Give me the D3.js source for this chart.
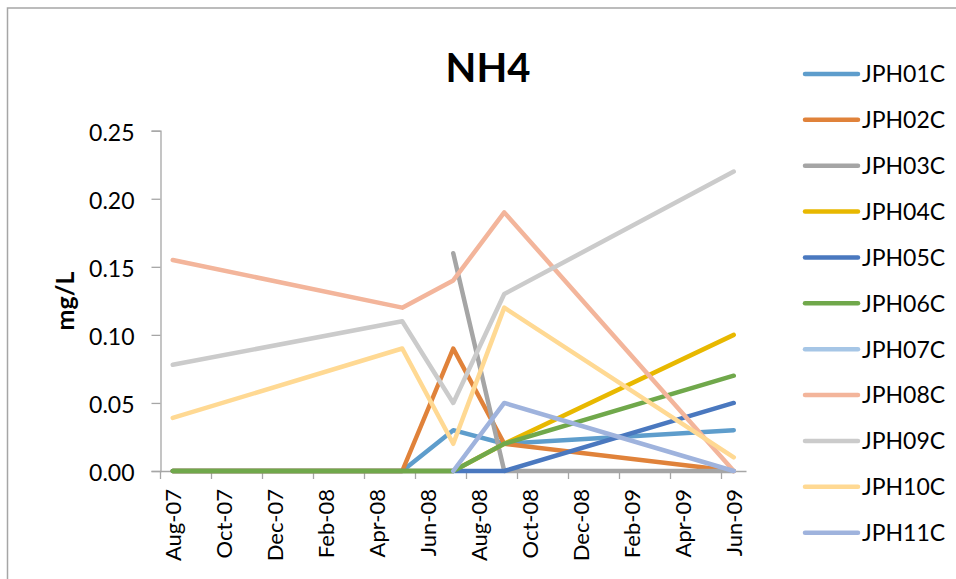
<!DOCTYPE html>
<html>
<head>
<meta charset="utf-8">
<script src="https://cdn.jsdelivr.net/npm/d3@7"></script>
<style>
  html, body { margin: 0; padding: 0; background: #fff; }
  svg { display: block; }
  text { font-family: Lato, "Open Sans", "Liberation Sans", sans-serif; fill: #000; }
</style>
</head>
<body>
<svg id="chart" width="956" height="579"></svg>
<script>
// Monthly categories of the date axis (one band per month)
const monthCats = ["Aug-07","Sep-07","Oct-07","Nov-07","Dec-07","Jan-08","Feb-08","Mar-08",
  "Apr-08","May-08","Jun-08","Jul-08","Aug-08","Sep-08","Oct-08","Nov-08","Dec-08",
  "Jan-09","Feb-09","Mar-09","Apr-09","May-09","Jun-09"];
// Labelled months on the x axis
const tickLabels = ["Aug-07","Oct-07","Dec-07","Feb-08","Apr-08","Jun-08",
  "Aug-08","Oct-08","Dec-08","Feb-09","Apr-09","Jun-09"];
// Sampling dates
const sampleDates = ["Aug-07","May-08","Jul-08","Sep-08","Jun-09"];
// Y axis ticks
const yTicks = [0, 0.05, 0.10, 0.15, 0.20, 0.25];

// NH4 concentration (mg/L) per station, one value per sampling date
const seriesNames = ["JPH01C","JPH02C","JPH03C","JPH04C","JPH05C","JPH06C",
  "JPH07C","JPH08C","JPH09C","JPH10C","JPH11C"];
const JPH01C = [0, 0, 0.03, 0.02, 0.03];
const JPH02C = [0, 0, 0.09, 0.02, 0];
const JPH03C = [null, null, 0.16, 0, 0];
const JPH04C = [0, 0, 0, 0.02, 0.10];
const JPH05C = [0, 0, 0, 0, 0.05];
const JPH06C = [0, 0, 0, 0.02, 0.07];
const JPH07C = [null, null, null, null, null];
const JPH08C = [0.155, 0.12, 0.14, 0.19, 0];
const JPH09C = [0.078, 0.11, 0.05, 0.13, 0.22];
const JPH10C = [0.039, 0.09, 0.02, 0.12, 0.01];
const JPH11C = [null, null, 0, 0.05, 0];
const seriesValues = [JPH01C, JPH02C, JPH03C, JPH04C, JPH05C, JPH06C,
  JPH07C, JPH08C, JPH09C, JPH10C, JPH11C];
const seriesColors = ["#5E9DCC","#E0823A","#A5A5A5","#E8B800","#4A78BF","#70A84B",
  "#A6C6E6","#F3B59B","#CBCBCB","#FFD993","#9FB3DD"];

const svg = d3.select("#chart");

// Outer chart frame
svg.append("rect")
  .attr("x", 7.5).attr("y", 8)
  .attr("width", 1000).attr("height", 1000)
  .attr("fill", "none").attr("stroke", "#A6A6A6").attr("stroke-width", 1.5);

const plot = { left: 160, right: 746.5, top: 130.7, bottom: 471 };

const x = d3.scaleBand().domain(monthCats).range([plot.left, plot.right]).paddingInner(0).paddingOuter(0);
const bw = x.bandwidth();
const xc = m => x(m) + bw / 2;
const y = d3.scaleLinear().domain([0, 0.25]).range([plot.bottom, plot.top]);

const axisColor = "#A6A6A6";

// Y axis
const yAxis = svg.append("g")
  .attr("transform", `translate(${plot.left + 0.5},0)`)
  .call(d3.axisLeft(y).tickValues(yTicks).tickFormat(d3.format(".2f")).tickSize(9).tickPadding(17));
yAxis.select(".domain").attr("stroke", axisColor).attr("stroke-width", 1.3);
yAxis.selectAll(".tick line").attr("stroke", axisColor).attr("stroke-width", 1.3);
yAxis.selectAll(".tick text")
  .attr("font-size", 23).attr("dy", "0.42em")
  .style("font-family", "Lato, 'Open Sans', sans-serif").attr("fill", "#000");

// X axis: ticks at every second month boundary, labels centred on the month
const xAxisG = svg.append("g");
xAxisG.append("line")
  .attr("x1", plot.left).attr("x2", plot.right)
  .attr("y1", plot.bottom + 0.5).attr("y2", plot.bottom + 0.5)
  .attr("stroke", axisColor).attr("stroke-width", 1.3);
xAxisG.selectAll("line.tk")
  .data(tickLabels)
  .join("line").attr("class", "tk")
  .attr("x1", d => x(d) + 0.5).attr("x2", d => x(d) + 0.5)
  .attr("y1", plot.bottom).attr("y2", plot.bottom + 8)
  .attr("stroke", axisColor).attr("stroke-width", 1.3);
xAxisG.selectAll("text")
  .data(tickLabels)
  .join("text")
  .attr("transform", d => `translate(${xc(d) + 8},${plot.bottom + 18}) rotate(-90)`)
  .attr("text-anchor", "end")
  .attr("font-size", 22)
  .text(d => d);

// Series lines
const line = d3.line()
  .defined(d => d.v != null)
  .x(d => xc(d.date))
  .y(d => y(d.v));

seriesNames.forEach((name, i) => {
  const pts = sampleDates.map((date, j) => ({ date, v: seriesValues[i][j] }));
  svg.append("path")
    .datum(pts)
    .attr("d", line)
    .attr("fill", "none")
    .attr("stroke", seriesColors[i])
    .attr("stroke-width", 4.5)
    .attr("stroke-linecap", "round")
    .attr("stroke-linejoin", "round");
});

// Title
svg.append("text")
  .attr("x", 488).attr("y", 82)
  .attr("text-anchor", "middle")
  .attr("font-size", 40).attr("font-weight", "bold")
  .text("NH4");

// Y axis title
svg.append("text")
  .attr("transform", "translate(74,301) rotate(-90)")
  .attr("text-anchor", "middle")
  .attr("font-size", 25).attr("font-weight", "bold")
  .text("mg/L");

// Legend
const legend = svg.append("g");
const rowY = d3.scalePoint().domain(seriesNames).range([74, 532.7]);
seriesNames.forEach((name, i) => {
  const g = legend.append("g").attr("transform", `translate(0,${rowY(name)})`);
  g.append("line")
    .attr("x1", 805).attr("x2", 858).attr("y1", 0).attr("y2", 0)
    .attr("stroke", seriesColors[i]).attr("stroke-width", 4.5)
    .attr("stroke-linecap", "round");
  g.append("text")
    .attr("x", 862).attr("y", 0).attr("dy", "0.36em")
    .attr("font-size", 23)
    .text(name);
});
</script>
</body>
</html>
